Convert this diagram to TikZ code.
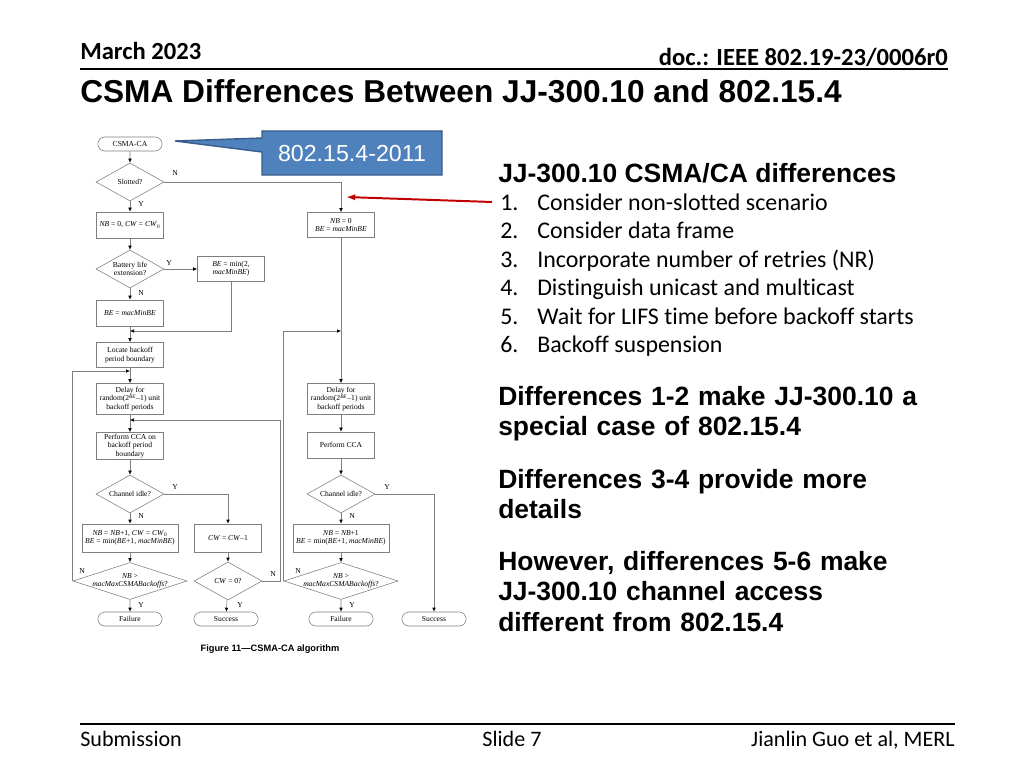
\documentclass[tikz,border=0pt]{standalone}
\usepackage{fontspec}
\setmainfont{Carlito}[Ligatures=NoCommon]
\newfontfamily\arialf{Liberation Sans}
\newfontfamily\timesf{Liberation Serif}
\usetikzlibrary{arrows.meta,positioning,shapes.geometric,shapes.misc}
\definecolor{callblue}{HTML}{4F81BD}
\definecolor{calledge}{HTML}{385D8A}
\definecolor{markred}{HTML}{C00000}
\definecolor{flowgray}{HTML}{7F7F7F}
\newcommand\fcfont{\timesf\fontsize{5.4}{5.9}\selectfont}
\tikzset{
  fbox/.style={draw=flowgray,line width=0.4pt,minimum width=1.675cm,minimum height=0.65cm,inner sep=1pt,align=center,font=\fcfont},
  fterm/.style={rounded rectangle,draw=flowgray,line width=0.4pt,minimum width=1.675cm,minimum height=0.35cm,inner sep=1pt,font=\fcfont},
  fdia/.style={diamond,draw=flowgray,line width=0.4pt,aspect=1.75,minimum width=1.7cm,minimum height=0.95cm,inner sep=0pt,align=center,font=\fcfont},
  fdiawide/.style={fdia,aspect=3.1,minimum width=2.85cm,minimum height=0.925cm},
  ftext/.style={inner sep=0pt,align=center,font=\fcfont},
  yn/.style={inner sep=0pt,font=\fcfont},
  flow/.style={draw=flowgray,line width=0.4pt,-{Latex[length=1mm,width=0.9mm,color=black]}},
  hdr/.style={inner sep=0pt,font=\bfseries\fontsize{17.5}{20}\selectfont},
  slidetitle/.style={inner sep=0pt,anchor=base west,font=\arialf\bfseries\fontsize{22.5}{26}\selectfont},
  heading/.style={inner sep=0pt,anchor=base west,font=\arialf\bfseries\fontsize{18.8}{22}\selectfont},
  item/.style={inner sep=0pt,anchor=base west,font=\fontsize{17}{20}\selectfont},
  para/.style={inner sep=0pt,anchor=base west,text width=11cm,align=left,font=\arialf\bfseries\fontsize{18.8}{22}\selectfont},
  foot/.style={inner sep=0pt,anchor=base,font=\fontsize{15.7}{18}\selectfont},
  markarrow/.style={draw=markred,line width=1.4pt,-{Latex[length=2.3mm,width=1.6mm]}},
}
\begin{document}
\begin{tikzpicture}[x=0.025cm,y=-0.025cm]
  \useasboundingbox[fill=white] (0,0) rectangle (1024,768);

  % header and footer
  \node[hdr,anchor=base west] (date) at (80,60) {March 2023};
  \node[hdr,anchor=base east] (doc) at (948,66) {doc.: IEEE 802.19-23/0006r0};
  \draw[line width=0.9pt] (80,69) -- (948,69);
  \node[slidetitle] (title) at (80,103) {CSMA Differences Between JJ-300.10 and 802.15.4};
  \draw[line width=0.9pt] (80,724) -- (955,724);
  \node[foot,anchor=base west] (sub) at (80,746) {Submission};
  \node[foot] (slide) at (512,746) {Slide 7};
  \node[foot,anchor=base east] (auth) at (955,746) {Jianlin Guo et al, MERL};

  % flowchart, left column (slotted)
  \node[fterm] (start) at (130,144) {CSMA-CA};
  \node[fdia] (slot) at (130,182) {Slotted?};
  \node[fbox] (nb1) at (130,225) {\textit{NB} = 0, \textit{CW} = \textit{CW}\textsubscript{0}};
  \node[fdia] (batt) at (130,269) {Battery life\\extension?};
  \node[fbox,minimum height=0.625cm] (bemin) at (231,269) {\textit{BE} = min(2,\\\textit{macMinBE})};
  \node[fbox] (bemac) at (130,313) {\textit{BE} = \textit{macMinBE}};
  \node[fbox,minimum height=0.625cm] (loc) at (130,355) {Locate backoff\\period boundary};
  \node[fbox,minimum height=0.775cm] (delay1) at (130,399) {Delay for\\random(2\textsuperscript{\textit{BE}}–1) unit\\backoff periods};
  \node[fbox,minimum height=0.675cm] (cca1) at (130,446) {Perform CCA on\\backoff period\\boundary};
  \node[fdia] (idle1) at (130,494) {Channel idle?};
  \node[fbox,minimum width=2.4cm,minimum height=0.7cm] (nbinc1) at (130,538) {\textit{NB} = \textit{NB}+1, \textit{CW} = \textit{CW}\textsubscript{0}\\\textit{BE} = min(\textit{BE}+1, \textit{macMinBE})};
  \node[fbox,minimum height=0.7cm] (cwdec) at (228,538) {\textit{CW} = \textit{CW}–1};
  \node[fdiawide] (max1) at (130,581) {};
  \node[ftext] (max1t) at (max1) {\textit{NB} >\\\textit{macMaxCSMABackoffs}?};
  \node[fdia] (cw0) at (228,581) {\textit{CW} = 0?};
  \node[fterm] (fail1) at (130,619) {Failure};
  \node[fterm] (succ1) at (226,619) {Success};

  % flowchart, right column (non-slotted)
  \node[fbox,minimum height=0.625cm] (nb0) at (341,225) {\textit{NB} = 0\\\textit{BE} = \textit{macMinBE}};
  \node[fbox,minimum height=0.775cm] (delay2) at (341,399) {Delay for\\random(2\textsuperscript{\textit{BE}}–1) unit\\backoff periods};
  \node[fbox] (cca2) at (341,445) {Perform CCA};
  \node[fdia] (idle2) at (341,494) {Channel idle?};
  \node[fbox,minimum width=2.4cm,minimum height=0.7cm] (nbinc2) at (341,538) {\textit{NB} = \textit{NB}+1\\\textit{BE} = min(\textit{BE}+1, \textit{macMinBE})};
  \node[fdiawide] (max2) at (341,581) {};
  \node[ftext] (max2t) at (max2) {\textit{NB} >\\\textit{macMaxCSMABackoffs}?};
  \node[fterm] (fail2) at (341,619) {Failure};
  \node[fterm] (succ2) at (434,619) {Success};

  \coordinate (j1) at (130,331);
  \coordinate (j2) at (130,371);
  \coordinate (j3) at (130,420);
  \coordinate (r1) at (280,581);
  \coordinate (j4) at (341,331);

  \draw[flow] (start) -- (slot);
  \draw[flow] (slot.east) -| (nb0.north);
  \draw[flow] (slot) -- (nb1);
  \draw[flow] (nb1) -- (batt);
  \draw[flow] (batt) -- (bemin);
  \draw[flow] (batt) -- (bemac);
  \draw[flow] (bemac) -- (loc);
  \draw[flow] (bemin) |- (j1);
  \draw[flow] (loc) -- (delay1);
  \draw[flow] (delay1) -- (cca1);
  \draw[flow] (cca1) -- (idle1);
  \draw[flow] (idle1.east) -| (cwdec.north);
  \draw[flow] (idle1) -- (nbinc1);
  \draw[flow] (nbinc1) -- (max1);
  \draw[flow] (cwdec) -- (cw0);
  \draw[flow] (max1) -- (fail1);
  \draw[flow] (cw0) -- (succ1);
  \draw[flow] (max1.west) |- (j2);
  \draw[flow] (cw0.east) -- (r1) |- (j3);

  \draw[flow] (nb0) -- (delay2);
  \draw[flow] (delay2) -- (cca2);
  \draw[flow] (cca2) -- (idle2);
  \draw[flow] (idle2) -- (nbinc2);
  \draw[flow] (nbinc2) -- (max2);
  \draw[flow] (max2) -- (fail2);
  \draw[flow] (idle2.east) -| (succ2.north);
  \draw[flow] (max2.west) |- (j4);

  % Y/N labels
  \node[yn] (n1) at (175,173) {N};
  \node[yn] (y1) at (141,204) {Y};
  \node[yn] (y2) at (169,263) {Y};
  \node[yn] (n2) at (141,293) {N};
  \node[yn] (y3) at (175,487) {Y};
  \node[yn] (n3) at (141,516) {N};
  \node[yn] (n4) at (82,571) {N};
  \node[yn] (y4) at (141,605) {Y};
  \node[yn] (n5) at (273,574) {N};
  \node[yn] (y5) at (240,605) {Y};
  \node[yn] (y6) at (387,487) {Y};
  \node[yn] (n6) at (352,516) {N};
  \node[yn] (n7) at (298,571) {N};
  \node[yn] (y7) at (352,605) {Y};

  \node[inner sep=0pt,font=\arialf\bfseries\fontsize{6.6}{8}\selectfont] (cap) at (270,649) {Figure 11—CSMA-CA algorithm};

  % callout
  \filldraw[fill=callblue,draw=calledge,line width=1pt] (262,131) -- (442,131) -- (442,175) -- (262,175) -- (262,152) -- (175,141) -- (262,138) -- cycle;
  \node[inner sep=0pt,text=white,font=\arialf\fontsize{16.5}{19}\selectfont] (ver) at (352,154) {802.15.4-2011};

  % red marker
  \coordinate (redtail) at (492,202);
  \coordinate (redtip) at (346,197);
  \draw[markarrow] (redtail) -- (redtip);

  % right text
  \node[heading] (diffs) at (498,182) {JJ-300.10 CSMA/CA differences};
  \foreach \i/\t in {1/Consider non-slotted scenario,2/Consider data frame,3/Incorporate number of retries (NR),4/Distinguish unicast and multicast,5/Wait for LIFS time before backoff starts,6/Backoff suspension}{
    \node[item] (num\i) at (500,{181.5+28.5*\i}) {\i.};
    \node[item] (txt\i) at (537,{181.5+28.5*\i}) {\t};
  }
  \node[para] (p1) at (498,405) {Differences 1-2 make JJ-300.10 a\\special case of 802.15.4};
  \node[para] (p2) at (498,488) {Differences 3-4 provide more\\details};
  \node[para] (p3) at (498,570) {However, differences 5-6 make\\JJ-300.10 channel access\\different from 802.15.4};
\end{tikzpicture}
\end{document}
